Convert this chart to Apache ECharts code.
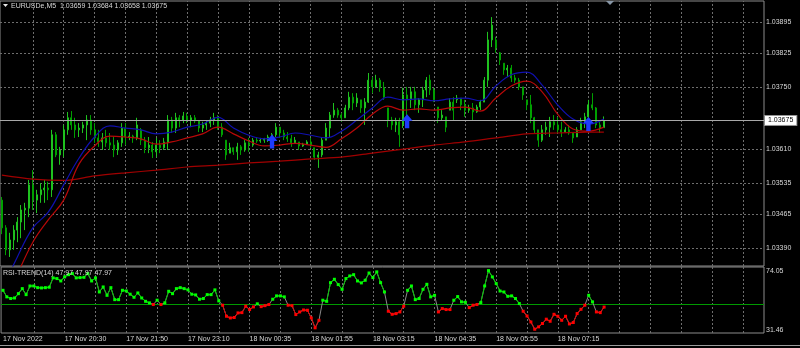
<!DOCTYPE html>
<html>
<head>
<meta charset="utf-8">
<title>EURUSDe,M5</title>
<script src="https://cdn.jsdelivr.net/npm/echarts@6.0.0/dist/echarts.min.js"></script>
<style>
  html, body { margin: 0; padding: 0; background: #000; }
  #chart { width: 800px; height: 348px; }
</style>
</head>
<body>
<div id="chart"></div>
<script>
// M5 bars (one entry per bar, left to right)
const barOpen = [
  1.03497, 1.03435, 1.03386, 1.03408, 1.03430, 1.03448, 1.03475, 1.03479, 1.03531, 1.03497,
  1.03509, 1.03520, 1.03524, 1.03520, 1.03643, 1.03598, 1.03609, 1.03654, 1.03681, 1.03665,
  1.03654, 1.03658, 1.03665, 1.03676, 1.03654, 1.03636, 1.03627, 1.03636, 1.03625, 1.03620,
  1.03609, 1.03625, 1.03658, 1.03638, 1.03640, 1.03636, 1.03654, 1.03631, 1.03614, 1.03620,
  1.03605, 1.03620, 1.03614, 1.03627, 1.03676, 1.03658, 1.03681, 1.03676, 1.03685, 1.03676,
  1.03681, 1.03674, 1.03658, 1.03665, 1.03669, 1.03676, 1.03681, 1.03660, 1.03631, 1.03602,
  1.03614, 1.03605, 1.03616, 1.03609, 1.03625, 1.03620, 1.03631, 1.03629, 1.03631, 1.03634,
  1.03638, 1.03643, 1.03660, 1.03647, 1.03638, 1.03634, 1.03625, 1.03627, 1.03618, 1.03622,
  1.03627, 1.03614, 1.03593, 1.03598, 1.03631, 1.03658, 1.03687, 1.03698, 1.03687, 1.03681,
  1.03703, 1.03727, 1.03714, 1.03721, 1.03703, 1.03716, 1.03765, 1.03750, 1.03765, 1.03748,
  1.03703, 1.03676, 1.03665, 1.03672, 1.03665, 1.03732, 1.03721, 1.03739, 1.03710, 1.03721,
  1.03743, 1.03765, 1.03743, 1.03705, 1.03681, 1.03683, 1.03698, 1.03716, 1.03721, 1.03725,
  1.03710, 1.03698, 1.03703, 1.03694, 1.03705, 1.03716, 1.03765, 1.03855, 1.03855, 1.03826,
  1.03803, 1.03788, 1.03792, 1.03770, 1.03765, 1.03750, 1.03721, 1.03710, 1.03681, 1.03654,
  1.03631, 1.03654, 1.03660, 1.03672, 1.03665, 1.03654, 1.03649, 1.03654, 1.03647, 1.03638,
  1.03654, 1.03672, 1.03683, 1.03710, 1.03703, 1.03665, 1.03659
];
const barHigh = [
  1.03504, 1.03441, 1.03424, 1.03441, 1.03459, 1.03486, 1.03491, 1.03542, 1.03564, 1.03520,
  1.03535, 1.03542, 1.03538, 1.03654, 1.03649, 1.03616, 1.03665, 1.03694, 1.03696, 1.03681,
  1.03669, 1.03672, 1.03687, 1.03687, 1.03669, 1.03654, 1.03647, 1.03654, 1.03647, 1.03638,
  1.03631, 1.03669, 1.03669, 1.03649, 1.03643, 1.03681, 1.03658, 1.03638, 1.03638, 1.03627,
  1.03636, 1.03631, 1.03636, 1.03687, 1.03683, 1.03692, 1.03687, 1.03694, 1.03692, 1.03687,
  1.03687, 1.03676, 1.03672, 1.03676, 1.03683, 1.03692, 1.03687, 1.03669, 1.03631, 1.03625,
  1.03614, 1.03625, 1.03620, 1.03631, 1.03636, 1.03636, 1.03638, 1.03636, 1.03636, 1.03643,
  1.03647, 1.03669, 1.03660, 1.03654, 1.03649, 1.03643, 1.03638, 1.03627, 1.03625, 1.03631,
  1.03636, 1.03614, 1.03605, 1.03638, 1.03669, 1.03694, 1.03714, 1.03703, 1.03692, 1.03710,
  1.03739, 1.03736, 1.03736, 1.03721, 1.03725, 1.03781, 1.03772, 1.03777, 1.03770, 1.03761,
  1.03703, 1.03683, 1.03681, 1.03681, 1.03748, 1.03750, 1.03750, 1.03750, 1.03725, 1.03750,
  1.03772, 1.03777, 1.03748, 1.03705, 1.03698, 1.03683, 1.03725, 1.03727, 1.03732, 1.03725,
  1.03721, 1.03710, 1.03714, 1.03710, 1.03721, 1.03772, 1.03873, 1.03906, 1.03862, 1.03828,
  1.03803, 1.03799, 1.03799, 1.03777, 1.03770, 1.03750, 1.03721, 1.03732, 1.03683, 1.03654,
  1.03665, 1.03672, 1.03683, 1.03687, 1.03683, 1.03672, 1.03660, 1.03665, 1.03649, 1.03660,
  1.03681, 1.03692, 1.03721, 1.03736, 1.03705, 1.03672, 1.03684
];
const barLow = [
  1.03421, 1.03374, 1.03370, 1.03386, 1.03403, 1.03412, 1.03430, 1.03459, 1.03475, 1.03468,
  1.03491, 1.03491, 1.03497, 1.03504, 1.03593, 1.03576, 1.03593, 1.03643, 1.03654, 1.03636,
  1.03638, 1.03647, 1.03631, 1.03643, 1.03625, 1.03616, 1.03609, 1.03616, 1.03609, 1.03593,
  1.03598, 1.03616, 1.03620, 1.03631, 1.03625, 1.03631, 1.03620, 1.03602, 1.03602, 1.03591,
  1.03593, 1.03602, 1.03609, 1.03609, 1.03647, 1.03647, 1.03660, 1.03669, 1.03669, 1.03660,
  1.03669, 1.03649, 1.03649, 1.03654, 1.03660, 1.03665, 1.03654, 1.03638, 1.03587, 1.03602,
  1.03598, 1.03587, 1.03598, 1.03605, 1.03605, 1.03616, 1.03625, 1.03625, 1.03625, 1.03627,
  1.03616, 1.03638, 1.03636, 1.03631, 1.03627, 1.03616, 1.03625, 1.03609, 1.03616, 1.03620,
  1.03614, 1.03587, 1.03569, 1.03593, 1.03631, 1.03636, 1.03681, 1.03681, 1.03672, 1.03681,
  1.03698, 1.03698, 1.03705, 1.03692, 1.03665, 1.03714, 1.03736, 1.03748, 1.03739, 1.03721,
  1.03660, 1.03654, 1.03649, 1.03616, 1.03658, 1.03676, 1.03703, 1.03698, 1.03692, 1.03705,
  1.03727, 1.03732, 1.03716, 1.03669, 1.03676, 1.03649, 1.03698, 1.03676, 1.03714, 1.03698,
  1.03683, 1.03692, 1.03676, 1.03692, 1.03698, 1.03716, 1.03750, 1.03839, 1.03826, 1.03799,
  1.03777, 1.03772, 1.03761, 1.03759, 1.03743, 1.03721, 1.03698, 1.03669, 1.03647, 1.03616,
  1.03627, 1.03643, 1.03638, 1.03654, 1.03647, 1.03638, 1.03647, 1.03643, 1.03625, 1.03638,
  1.03654, 1.03658, 1.03669, 1.03698, 1.03658, 1.03647, 1.03658
];
const barClose = [
  1.03435, 1.03386, 1.03408, 1.03430, 1.03448, 1.03475, 1.03479, 1.03531, 1.03497, 1.03509,
  1.03520, 1.03524, 1.03520, 1.03643, 1.03598, 1.03609, 1.03654, 1.03681, 1.03665, 1.03654,
  1.03658, 1.03665, 1.03676, 1.03654, 1.03636, 1.03627, 1.03636, 1.03625, 1.03620, 1.03609,
  1.03625, 1.03658, 1.03638, 1.03640, 1.03636, 1.03665, 1.03631, 1.03614, 1.03620, 1.03605,
  1.03620, 1.03614, 1.03627, 1.03676, 1.03658, 1.03681, 1.03676, 1.03685, 1.03676, 1.03681,
  1.03674, 1.03658, 1.03665, 1.03669, 1.03676, 1.03681, 1.03660, 1.03643, 1.03598, 1.03614,
  1.03605, 1.03616, 1.03609, 1.03625, 1.03620, 1.03631, 1.03629, 1.03631, 1.03634, 1.03638,
  1.03643, 1.03660, 1.03647, 1.03638, 1.03634, 1.03625, 1.03631, 1.03618, 1.03622, 1.03627,
  1.03618, 1.03593, 1.03598, 1.03631, 1.03658, 1.03687, 1.03698, 1.03687, 1.03681, 1.03703,
  1.03727, 1.03714, 1.03725, 1.03703, 1.03716, 1.03765, 1.03750, 1.03765, 1.03748, 1.03727,
  1.03676, 1.03665, 1.03672, 1.03643, 1.03732, 1.03721, 1.03739, 1.03710, 1.03721, 1.03743,
  1.03765, 1.03743, 1.03721, 1.03681, 1.03687, 1.03660, 1.03716, 1.03698, 1.03725, 1.03710,
  1.03698, 1.03703, 1.03694, 1.03705, 1.03716, 1.03765, 1.03855, 1.03888, 1.03837, 1.03810,
  1.03788, 1.03792, 1.03770, 1.03765, 1.03750, 1.03732, 1.03710, 1.03681, 1.03654, 1.03631,
  1.03654, 1.03660, 1.03672, 1.03665, 1.03654, 1.03649, 1.03654, 1.03647, 1.03636, 1.03654,
  1.03672, 1.03683, 1.03710, 1.03703, 1.03665, 1.03658, 1.03675
];

// moving averages, read at every few bars: [bar index, price]
const blueMa = [
  [0, 1.03296], [4, 1.03370], [8, 1.03435], [12, 1.03470], [16, 1.03531], [20, 1.03591],
  [24, 1.03638], [28, 1.03663], [32, 1.03658], [36, 1.03654], [40, 1.03645], [44, 1.03649],
  [48, 1.03660], [52, 1.03667], [56, 1.03682], [60, 1.03658], [64, 1.03642], [68, 1.03634],
  [72, 1.03638], [76, 1.03647], [80, 1.03642], [84, 1.03636], [88, 1.03651], [92, 1.03676],
  [96, 1.03703], [100, 1.03727], [104, 1.03721], [108, 1.03723], [112, 1.03719], [116, 1.03723],
  [120, 1.03725], [124, 1.03719], [128, 1.03752], [132, 1.03777], [136, 1.03783], [140, 1.03754],
  [144, 1.03710], [148, 1.03678], [152, 1.03667], [156, 1.03678]
];
const redMa = [
  [4, 1.03330], [8, 1.03403], [12, 1.03453], [16, 1.03497], [20, 1.03578], [24, 1.03618],
  [28, 1.03640], [32, 1.03638], [36, 1.03634], [40, 1.03622], [44, 1.03627], [48, 1.03636],
  [52, 1.03645], [56, 1.03660], [60, 1.03645], [64, 1.03629], [68, 1.03618], [72, 1.03620],
  [76, 1.03624], [80, 1.03620], [84, 1.03615], [88, 1.03634], [92, 1.03658], [96, 1.03689],
  [100, 1.03707], [104, 1.03698], [108, 1.03701], [112, 1.03698], [116, 1.03703], [120, 1.03705],
  [124, 1.03696], [128, 1.03725], [132, 1.03752], [136, 1.03763], [140, 1.03739], [144, 1.03689],
  [148, 1.03656], [152, 1.03651], [156, 1.03660]
];
const longMa = [
  [0, 1.03553], [8, 1.03544], [16, 1.03541], [24, 1.03551], [32, 1.03558], [40, 1.03564],
  [48, 1.03571], [56, 1.03575], [64, 1.03580], [72, 1.03584], [80, 1.03589], [88, 1.03593],
  [96, 1.03602], [104, 1.03611], [112, 1.03620], [120, 1.03627], [128, 1.03636], [136, 1.03645],
  [144, 1.03647], [152, 1.03649], [156, 1.03649]
];

// buy arrows
const arrowBars = [70, 105, 152];
const arrowPrices = [1.03628, 1.03673, 1.03667];

// RSI-TREND(14), one value per bar
const rsiValues = [
  60.0, 55.3, 54.1, 54.5, 57.6, 61.2, 56.9, 63.1, 63.1, 61.9,
  61.7, 61.9, 62.2, 68.9, 68.4, 66.7, 69.6, 71.2, 72.0, 68.9,
  69.1, 69.3, 72.0, 66.7, 68.9, 58.8, 62.4, 56.4, 61.9, 53.3,
  53.3, 60.0, 59.5, 57.2, 55.0, 58.1, 54.5, 52.1, 51.0, 49.8,
  52.9, 49.8, 51.0, 59.3, 57.6, 61.2, 61.9, 61.2, 60.3, 57.2,
  56.7, 53.6, 54.1, 56.9, 56.9, 60.3, 52.4, 49.3, 41.4, 40.2,
  40.5, 43.8, 44.0, 48.6, 46.2, 48.1, 50.3, 48.3, 49.0, 49.8,
  53.6, 56.0, 56.0, 55.3, 49.3, 49.0, 42.6, 44.5, 45.9,
  45.7, 40.2, 33.1, 38.5, 52.9, 52.1, 65.5, 67.9, 64.1, 60.7,
  68.4, 70.3, 71.2, 66.7, 65.3, 67.2, 72.4, 69.1, 73.2, 65.5,
  58.8, 45.0, 42.8, 43.3, 44.5, 48.6, 60.0, 63.1, 53.3, 54.1,
  60.7, 64.3, 55.3, 56.4, 44.5, 46.9, 46.2, 46.2, 52.9, 55.5,
  51.7, 51.4, 47.6, 49.3, 49.8, 51.2, 63.1, 74.1, 69.6, 64.8,
  59.5, 58.8, 55.7, 56.0, 54.1, 50.5, 45.0, 41.6, 37.3, 32.1,
  33.8, 36.2, 39.3, 37.8, 42.8, 41.4, 38.5, 41.4, 35.9, 36.9,
  43.3, 46.4, 49.3, 56.4, 51.7, 44.5, 44.0, 47.97
];
const rsiLevel = 50;

// scale labels
const priceTicks = [1.03895, 1.03825, 1.03750, 1.03610, 1.03535, 1.03465, 1.03390];
const rsiTicks = [74.05, 31.46];
const lastPrice = 1.03675;
const timeLabelIdx = [0, 16, 32, 48, 64, 80, 96, 112, 128, 144];
const timeLabels = [
  '17 Nov 2022', '17 Nov 20:30', '17 Nov 21:50', '17 Nov 23:10', '18 Nov 00:35',
  '18 Nov 01:55', '18 Nov 03:15', '18 Nov 04:35', '18 Nov 05:55', '18 Nov 07:15'
];
const vGridIdx = [8, 16, 24, 32, 40, 48, 56, 64, 72, 80, 88, 96, 104, 112, 120, 128,
  136, 144, 152, 160, 168, 176, 184, 192];
const barSlots = 198; // bars that fit in the window incl. the shift on the right

const FONT = 'Liberation Sans, Arial, sans-serif';
const TXT = '#d8d8d8';
const GRIDLINE = { color: '#6e6e6e', type: [2, 2], width: 1 };

const categories = [];
for (let i = 0; i < barSlots; i++) categories.push(String(i));

const candles = barOpen.map((o, i) => [o, barClose[i], barLow[i], barHigh[i]]);
const rsiUp = rsiValues.map(v => (v >= rsiLevel ? v : null));
const rsiDown = rsiValues.map(v => (v < rsiLevel ? v : null));

const chart = echarts.init(document.getElementById('chart'));

const option = {
  backgroundColor: '#000',
  animation: false,
  title: [
    { text: 'EURUSDe,M5  1.03659 1.03684 1.03658 1.03675', left: 11, top: 3, padding: 0,
      textStyle: { color: TXT, fontSize: 7, fontWeight: 'normal', fontFamily: FONT } },
    { text: 'RSI-TREND(14) 47.97 47.97 47.97', left: 3, top: 270, padding: 0,
      textStyle: { color: TXT, fontSize: 7, fontWeight: 'normal', fontFamily: FONT } }
  ],
  graphic: [
    { type: 'polygon', shape: { points: [[3, 4], [8, 4], [5.5, 7]] }, style: { fill: '#e6e6e6' } },
    { type: 'polygon', shape: { points: [[606, 1], [614, 1], [610, 5]] }, style: { fill: '#8796a6' } },
    { type: 'rect', shape: { x: 0, y: 345, width: 800, height: 1 }, style: { fill: '#9a9a9a' } }
  ],
  grid: [
    { left: 0, right: 36, top: 1, height: 265, show: true, borderColor: '#8c8c8c', borderWidth: 1 },
    { left: 0, right: 36, top: 267, height: 66, show: true, borderColor: '#8c8c8c', borderWidth: 1 }
  ],
  xAxis: [
    { type: 'category', gridIndex: 0, data: categories, boundaryGap: true,
      axisLine: { show: false }, axisTick: { show: false }, axisLabel: { show: false }, splitLine: { show: false } },
    { type: 'category', gridIndex: 1, data: categories, boundaryGap: true,
      axisLine: { show: false }, axisTick: { show: false }, splitLine: { show: false },
      axisLabel: {
        show: true, align: 'left', margin: 3, color: TXT, fontSize: 7, fontFamily: FONT,
        interval: (idx) => timeLabelIdx.includes(idx),
        formatter: (val, idx) => timeLabels[timeLabelIdx.indexOf(idx)] || ''
      } }
  ],
  yAxis: [
    { type: 'value', gridIndex: 0, position: 'right', min: 1.033498, max: 1.039419,
      axisLine: { show: false }, axisTick: { show: false }, axisLabel: { show: false }, splitLine: { show: false } },
    { type: 'value', gridIndex: 1, position: 'right', min: 29.4, max: 76.7,
      axisLine: { show: false }, axisTick: { show: false }, axisLabel: { show: false }, splitLine: { show: false } }
  ],
  series: [
    // dotted grid + price scale of the main window (precision 5, otherwise markLine rounds to 1.04)
    {
      type: 'line', xAxisIndex: 0, yAxisIndex: 0, data: [], silent: true,
      markLine: {
        silent: true, symbol: 'none', z: 1, precision: 5, lineStyle: GRIDLINE, label: { show: false },
        data: [
          ...vGridIdx.map(i => ({ xAxis: i })),
          ...priceTicks.map(p => ({
            yAxis: p,
            label: { show: true, position: 'end', distance: 2, formatter: p.toFixed(5),
              color: TXT, fontSize: 7, fontFamily: FONT }
          }))
        ]
      }
    },
    {
      name: 'EURUSDe', type: 'candlestick', xAxisIndex: 0, yAxisIndex: 0, z: 3,
      data: candles, barWidth: 1.5,
      itemStyle: { color: '#1fc21f', color0: '#00a000', borderColor: '#1fc21f', borderColor0: '#00a000', borderWidth: 1 },
      markLine: {
        silent: true, symbol: 'none', z: 6, precision: 5,
        lineStyle: { color: '#a8a8a8', type: 'solid', width: 1 },
        label: { position: 'end', distance: 1, formatter: lastPrice.toFixed(5), color: '#000',
          backgroundColor: '#fff', borderColor: '#909090', borderWidth: 1, padding: [1, 3, 1, 3],
          fontSize: 7, fontFamily: FONT },
        data: [{ yAxis: lastPrice }]
      }
    },
    { name: 'MA long', type: 'line', xAxisIndex: 0, yAxisIndex: 0, data: longMa, smooth: 0.3,
      showSymbol: false, z: 4, lineStyle: { color: '#a00000', width: 1.2 } },
    { name: 'MA slow', type: 'line', xAxisIndex: 0, yAxisIndex: 0, data: redMa, smooth: 0.4,
      showSymbol: false, z: 4, lineStyle: { color: '#b80808', width: 1.2 } },
    { name: 'MA fast', type: 'line', xAxisIndex: 0, yAxisIndex: 0, data: blueMa, smooth: 0.4,
      showSymbol: false, z: 4, lineStyle: { color: '#1010b0', width: 1.2 } },
    {
      name: 'Buy', type: 'scatter', xAxisIndex: 0, yAxisIndex: 0, z: 6,
      data: arrowBars.map((b, i) => [b, arrowPrices[i]]),
      symbol: 'path://M5,0 L10,6 L7,6 L7,13 L3,13 L3,6 L0,6 Z', symbolSize: [11, 14],
      itemStyle: { color: '#1e3cff', opacity: 1 }
    },

    // RSI window
    {
      type: 'line', xAxisIndex: 1, yAxisIndex: 1, data: [], silent: true,
      markLine: {
        silent: true, symbol: 'none', z: 1, lineStyle: GRIDLINE, label: { show: false },
        data: [
          ...vGridIdx.map(i => ({ xAxis: i })),
          { yAxis: rsiLevel, lineStyle: { color: '#009a00', type: 'solid', width: 1 } },
          ...rsiTicks.map(v => ({
            yAxis: v, lineStyle: { color: 'rgba(0,0,0,0)' },
            label: { show: true, position: 'end', distance: 2, formatter: v.toFixed(2),
              color: TXT, fontSize: 7, fontFamily: FONT }
          }))
        ]
      }
    },
    { name: 'RSI', type: 'line', xAxisIndex: 1, yAxisIndex: 1, data: rsiValues, z: 3,
      showSymbol: false, lineStyle: { color: '#8a8a8a', width: 1 } },
    { name: 'RSI up', type: 'line', xAxisIndex: 1, yAxisIndex: 1, data: rsiUp, z: 4,
      showAllSymbol: true, symbol: 'rect', symbolSize: 3,
      itemStyle: { color: '#00ff00' }, lineStyle: { color: '#00c800', width: 1 } },
    { name: 'RSI down', type: 'line', xAxisIndex: 1, yAxisIndex: 1, data: rsiDown, z: 4,
      showAllSymbol: true, symbol: 'rect', symbolSize: 3,
      itemStyle: { color: '#ff0000' }, lineStyle: { color: '#e00000', width: 1 } }
  ]
};

chart.setOption(option);
window.addEventListener('resize', () => chart.resize());
</script>
</body>
</html>
